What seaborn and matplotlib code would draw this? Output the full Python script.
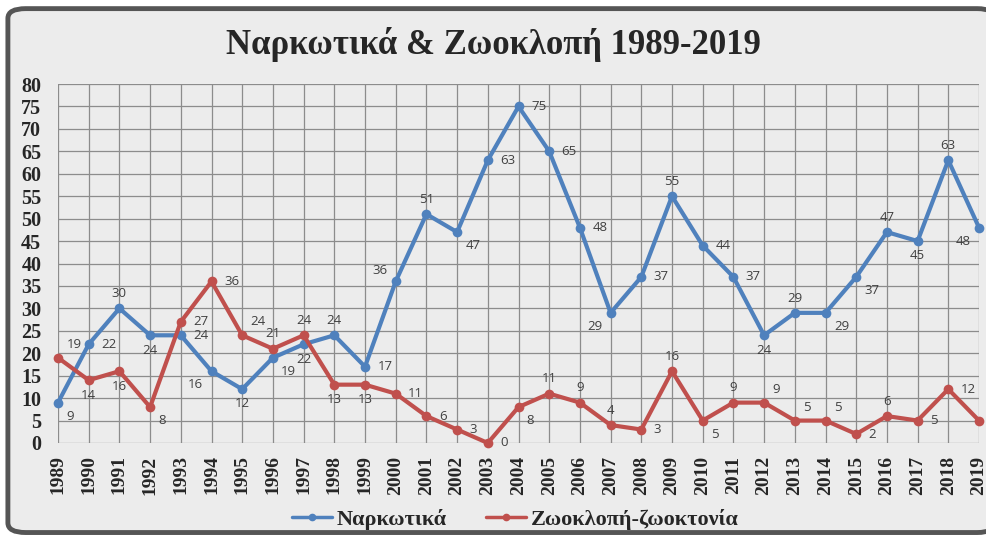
import matplotlib
matplotlib.use("Agg")
import matplotlib.pyplot as plt
from matplotlib.patches import FancyBboxPatch
import pandas as pd
import seaborn as sns

years = list(range(1989, 2020))
narkotika = [9, 22, 30, 24, 24, 16, 12, 19, 22, 24, 17, 36, 51, 47, 63, 75,
             65, 48, 29, 37, 55, 44, 37, 24, 29, 29, 37, 47, 45, 63, 48]
zookloph = [19, 14, 16, 8, 27, 36, 24, 21, 24, 13, 13, 11, 6, 3, 0, 8,
            11, 9, 4, 3, 16, 5, 9, 9, 5, 5, 2, 6, 5, 12, 5]
series_names = ["Ναρκωτικά", "Ζωοκλοπή-ζωοκτονία"]
title = "Ναρκωτικά & Ζωοκλοπή 1989-2019"

BLUE = "#4F81BD"
RED = "#C0504D"

# where each data label sits relative to its point
blue_pos = ["br", "r", "a", "b", "r", "bl", "b", "br", "b", "a", "r", "al", "a", "br", "r", "r",
            "r", "r", "bl", "r", "a", "r", "r", "b", "a", "br", "br", "a", "b", "a", "bl"]
red_pos = ["ar", "b", "b", "br", "r", "r", "ar", "a", "a", "b", "b", "r", "r", "r", "r", "br",
           "a", "a", "a", "r", "a", "br", "a", "ar", "ar", "ar", "r", "a", "r", "r", "r"]
offsets = {
    "r": ((9, 0), "left", "center"),
    "a": ((0, 6), "center", "bottom"),
    "b": ((0, -6), "center", "top"),
    "br": ((6, -5), "left", "top"),
    "bl": ((-6, -5), "right", "top"),
    "ar": ((6, 5), "left", "bottom"),
    "al": ((-6, 3), "right", "bottom"),
}

df = pd.DataFrame({
    "year": years * 2,
    "value": narkotika + zookloph,
    "series": [series_names[0]] * len(years) + [series_names[1]] * len(years),
})

sns.set_style("white")
plt.rcParams["font.family"] = ["Liberation Serif", "DejaVu Serif"]

fig = plt.figure(figsize=(9.87, 5.39), dpi=100)
fig.patch.set_facecolor("white")
frame = FancyBboxPatch((0.008, 0.012), 1.0, 0.972, boxstyle="round,pad=0,rounding_size=0.018",
                       transform=fig.transFigure, facecolor="#ECECEC", edgecolor="#555555",
                       linewidth=3.5, zorder=-10)
fig.patches.append(frame)

ax = fig.add_axes([58 / 987, 1 - 443 / 539, (979 - 58) / 987, (443 - 84) / 539])
ax.set_facecolor("none")

sns.lineplot(data=df, x="year", y="value", hue="series", palette=[BLUE, RED],
             marker="o", markersize=7, markeredgewidth=0, linewidth=3,
             ax=ax, legend=False, clip_on=False, zorder=3)

for vals, pos in [(narkotika, blue_pos), (zookloph, red_pos)]:
    for x, y, p in zip(years, vals, pos):
        (dx, dy), ha, va = offsets[p]
        ax.annotate(str(y), (x, y), xytext=(dx, dy), textcoords="offset points",
                    ha=ha, va=va, fontsize=9.5, color="#404040",
                    family=["Open Sans", "DejaVu Sans"], zorder=4, annotation_clip=False)

ax.set_xlim(1989, 2019)
ax.set_ylim(0, 80)
ax.set_xticks(years)
ax.set_xticklabels([str(y) for y in years], rotation=90, fontsize=14, fontweight="bold")
ax.set_yticks(range(0, 81, 5))
ax.set_yticklabels([str(v) for v in range(0, 81, 5)], fontsize=14.5, fontweight="bold")
ax.tick_params(axis="x", length=0, pad=9)
ax.tick_params(axis="y", length=0, pad=12)
ax.grid(True, color="#8C8C8C", linewidth=0.9)
ax.set_axisbelow(True)
for s in ax.spines.values():
    s.set_visible(False)
ax.set_xlabel("")
ax.set_ylabel("")

fig.text(0.5, 1 - 45 / 539, title, ha="center", va="center", fontsize=25, fontweight="bold")

handles = [plt.Line2D([], [], color=c, lw=2.5, marker="o", markersize=4.5) for c in [BLUE, RED]]
fig.legend(handles, series_names, loc="center", bbox_to_anchor=(0.522, 1 - 519 / 539), ncol=2,
           frameon=False, handlelength=1.8, handletextpad=0.2, columnspacing=1.8,
           prop={"size": 16, "weight": "bold"})

fig.savefig("out.png", dpi=100)
